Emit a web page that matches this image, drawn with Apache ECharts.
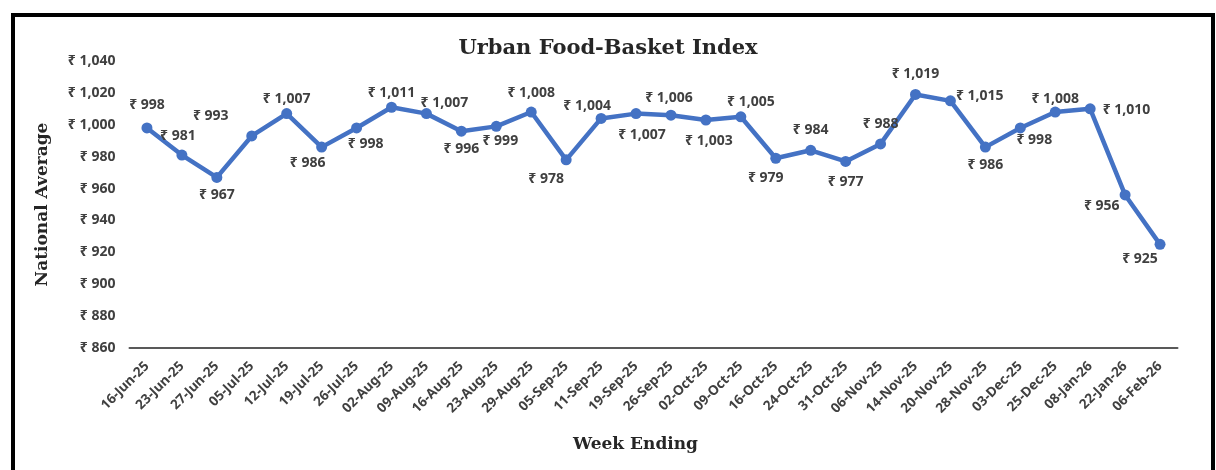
<!DOCTYPE html>
<html>
<head>
<meta charset="utf-8">
<style>
  html, body { margin: 0; padding: 0; background: #fff; }
  #chart { width: 1216px; height: 470px; }
</style>
<script src="https://cdn.jsdelivr.net/npm/echarts@6/dist/echarts.min.js"></script>
</head>
<body>
<div id="chart"></div>
<script>
const weeks = ['16-Jun-25', '23-Jun-25', '27-Jun-25', '05-Jul-25', '12-Jul-25', '19-Jul-25',
  '26-Jul-25', '02-Aug-25', '09-Aug-25', '16-Aug-25', '23-Aug-25', '29-Aug-25',
  '05-Sep-25', '11-Sep-25', '19-Sep-25', '26-Sep-25', '02-Oct-25', '09-Oct-25',
  '16-Oct-25', '24-Oct-25', '31-Oct-25', '06-Nov-25', '14-Nov-25', '20-Nov-25',
  '28-Nov-25', '03-Dec-25', '25-Dec-25', '08-Jan-26', '22-Jan-26', '06-Feb-26'];
const nationalAvg = [998, 981, 967, 993, 1007, 986, 998, 1011, 1007, 996, 999, 1008,
  978, 1004, 1007, 1006, 1003, 1005, 979, 984, 977, 988, 1019, 1015, 986, 998, 1008, 1010, 956, 925];
// where each data label sits relative to its point
const labelSide = ['top', 'top', 'bottom', 'top', 'top', 'bottom', 'bottom', 'top', 'top', 'bottom',
  'bottom', 'top', 'bottom', 'top', 'bottom', 'top', 'bottom', 'top', 'bottom', 'top',
  'bottom', 'top', 'top', 'right', 'bottom', 'bottom', 'top', 'right', 'left', 'bottom'];

const rupee = v => '₹ ' + v.toLocaleString('en-US');
const txt = '#404040';
const lblFont = '"Noto Sans", "DejaVu Sans", sans-serif';
const serif = '"DejaVu Serif", "Liberation Serif", serif';

// small nudges so labels land where the original put them
const nudge = [
  [0, -5], [-4, -2], [0, 0], [-41, -2], [0, 3], [-14, -2], [9, -1], [0, 3], [18, 7], [0, 0],
  [4, -3], [0, -2], [-20, 2], [-14, 5], [6, 4], [-2, 0], [3, 4], [10, 3], [-10, 2], [0, -3],
  [0, 3], [0, -2], [0, -3], [-5, -5], [0, 0], [14, -5], [0, 4], [2, 1], [5, 11], [-20, -3]
];

const seriesData = nationalAvg.map((v, i) => ({
  value: v,
  label: {
    position: labelSide[i],
    offset: nudge[i]
  }
}));

const chart = echarts.init(document.getElementById('chart'));
chart.setOption({
  animation: false,
  backgroundColor: '#fff',
  title: {
    text: 'Urban Food-Basket Index',
    left: 'center',
    top: 33,
    textStyle: { fontFamily: serif, fontWeight: 'bold', fontSize: 21, color: '#262626' }
  },
  graphic: [{
    type: 'rect',
    shape: { x: 13, y: 15, width: 1200, height: 520 },
    style: { fill: 'none', stroke: '#000', lineWidth: 4 },
    silent: true
  }],
  grid: { left: 129.5, right: 38.5, top: 61, bottom: 122 },
  xAxis: {
    type: 'category',
    data: weeks,
    boundaryGap: true,
    name: 'Week Ending',
    nameLocation: 'middle',
    nameGap: 88,
    nameTextStyle: {
      fontFamily: serif, fontWeight: 'bold', fontSize: 17, color: '#262626',
      padding: [0, 36, 0, 0]
    },
    axisLine: { lineStyle: { color: '#595959', width: 2 } },
    axisTick: { show: false },
    axisLabel: {
      rotate: 45, interval: 0, margin: 16,
      fontFamily: lblFont, fontWeight: 'bold', fontSize: 13.5, color: txt
    }
  },
  yAxis: {
    type: 'value',
    min: 860, max: 1040, interval: 20,
    name: 'National Average',
    nameLocation: 'middle',
    nameGap: 78,
    nameTextStyle: { fontFamily: serif, fontWeight: 'bold', fontSize: 17, color: '#262626' },
    axisLine: { show: false },
    axisTick: { show: false },
    splitLine: { show: false },
    axisLabel: {
      margin: 14,
      formatter: rupee,
      fontFamily: lblFont, fontWeight: 'bold', fontSize: 14, color: txt
    }
  },
  series: [{
    type: 'line',
    data: seriesData,
    symbol: 'circle',
    symbolSize: 11,
    lineStyle: { color: '#4472C4', width: 4.5 },
    itemStyle: { color: '#4472C4' },
    label: {
      show: true,
      distance: 5,
      formatter: p => rupee(p.value),
      fontFamily: lblFont, fontWeight: 'bold', fontSize: 14, color: txt
    }
  }]
});
</script>
</body>
</html>
